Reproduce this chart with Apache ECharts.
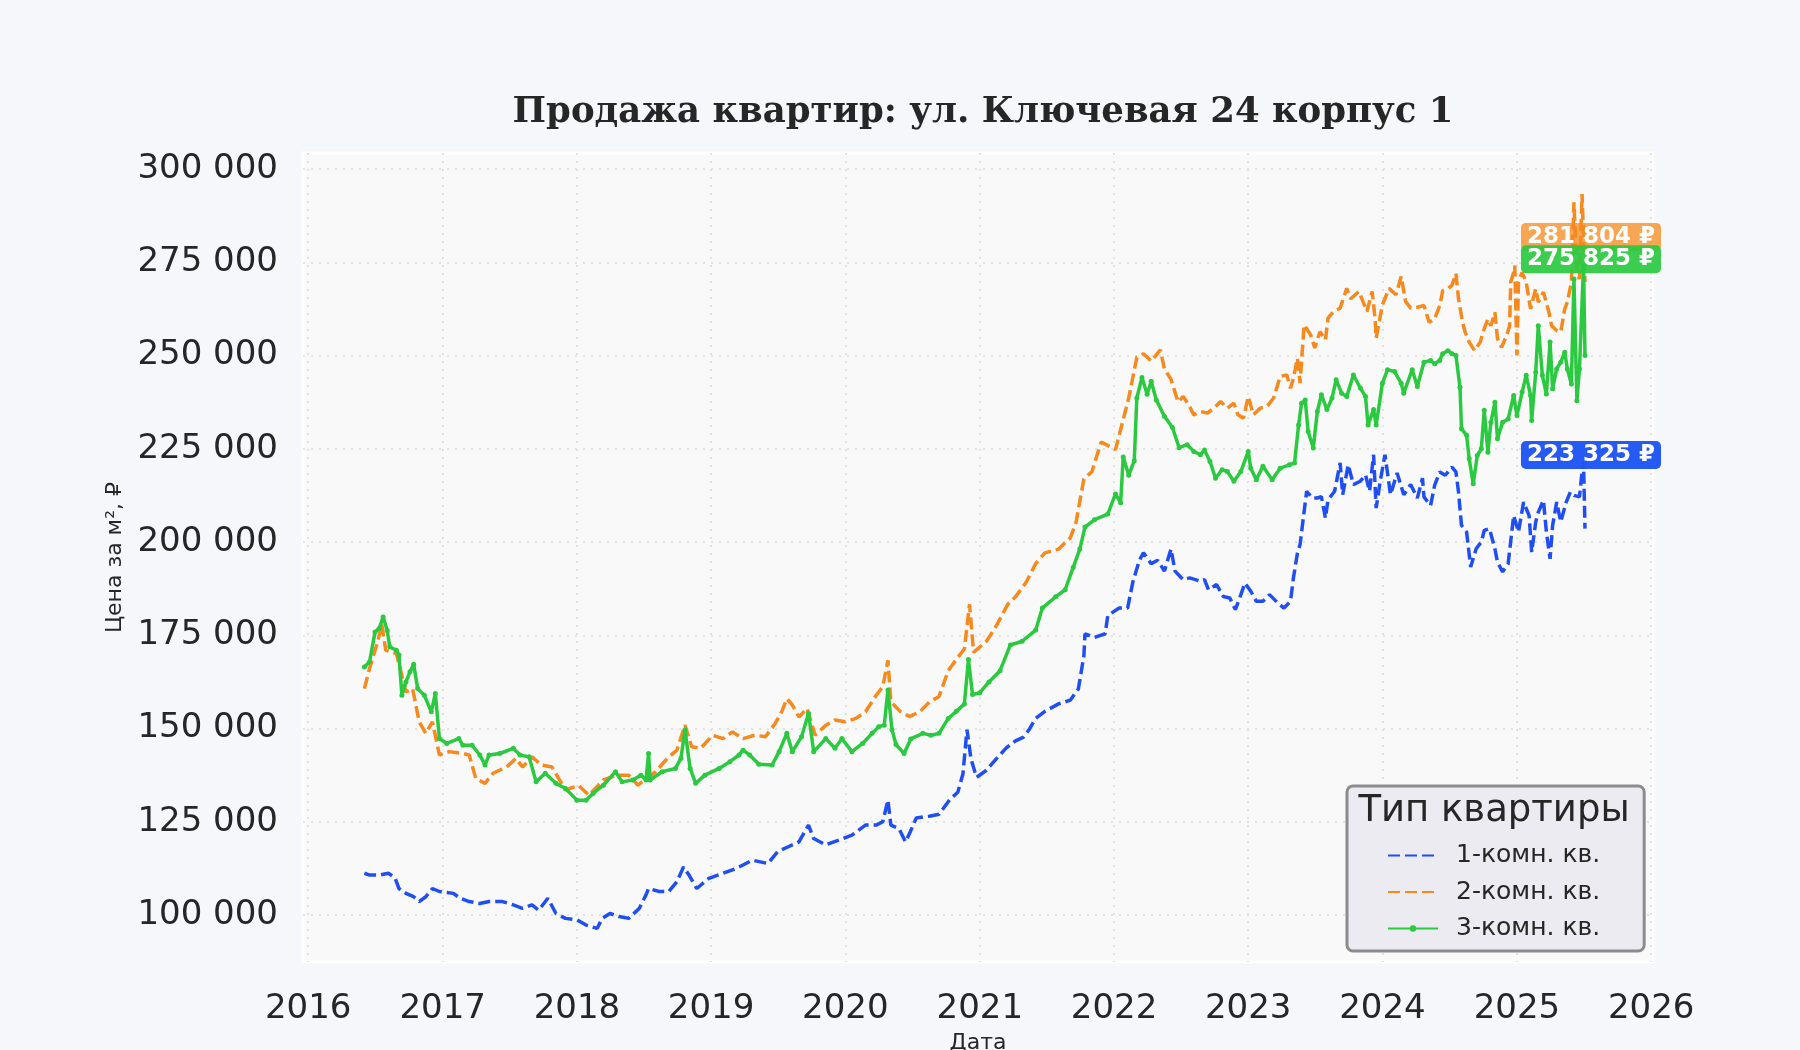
<!DOCTYPE html>
<html>
<head>
<meta charset="utf-8">
<script src="https://cdn.jsdelivr.net/npm/echarts@6/dist/echarts.min.js"></script>
<style>
  html, body { margin: 0; padding: 0; background: #f5f7fa; }
  #chart { width: 1800px; height: 1050px; }
</style>
</head>
<body>
<div id="chart"></div>
<script>
// Продажа квартир: ул. Ключевая 24 корпус 1

var yTicks = [100000, 125000, 150000, 175000, 200000, 225000, 250000, 275000, 300000];
var xTicks = ['2016-01-01', '2017-01-01', '2018-01-01', '2019-01-01', '2020-01-01',
              '2021-01-01', '2022-01-01', '2023-01-01', '2024-01-01', '2025-01-01', '2026-01-01'];
var seriesNames = ['1-комн. кв.', '2-комн. кв.', '3-комн. кв.'];
var lastDate = '2025-07-05';
var lastLabels = [223325, 281804, 275825];

var room1 = [
  ['2016-06-02', 111200], ['2016-06-16', 110700], ['2016-07-12', 110700], ['2016-08-06', 111200],
  ['2016-08-24', 110000], ['2016-09-04', 107100], ['2016-09-23', 105800], ['2016-10-14', 104900],
  ['2016-10-29', 103600], ['2016-11-16', 104900], ['2016-12-04', 107100], ['2016-12-23', 106300],
  ['2017-01-30', 105800], ['2017-02-17', 104500], ['2017-03-14', 103600], ['2017-04-12', 103100],
  ['2017-05-07', 103600], ['2017-06-13', 103600], ['2017-07-12', 102700], ['2017-08-06', 101800],
  ['2017-09-01', 102700], ['2017-09-19', 101300], ['2017-10-14', 104500], ['2017-11-05', 100400],
  ['2017-12-01', 99100], ['2018-01-01', 98700], ['2018-01-26', 97300], ['2018-02-25', 96400],
  ['2018-03-11', 99100], ['2018-04-01', 100400], ['2018-04-26', 99600], ['2018-05-22', 99100],
  ['2018-06-20', 101800], ['2018-07-08', 105400], ['2018-07-15', 107100], ['2018-08-13', 106300],
  ['2018-09-08', 106300], ['2018-09-30', 108900], ['2018-10-18', 112900], ['2018-11-02', 110700],
  ['2018-11-23', 107100], ['2018-12-26', 109800], ['2019-02-03', 111200], ['2019-03-11', 112500],
  ['2019-04-23', 114700], ['2019-06-05', 113800], ['2019-07-01', 117000], ['2019-07-30', 118300],
  ['2019-08-28', 119600], ['2019-09-23', 124100], ['2019-10-07', 120500], ['2019-11-09', 118800],
  ['2019-12-15', 120100], ['2020-01-19', 121400], ['2020-02-25', 124100], ['2020-03-25', 124100],
  ['2020-04-12', 125000], ['2020-04-26', 130800], ['2020-05-04', 124100], ['2020-05-26', 123200],
  ['2020-06-13', 119600], ['2020-06-24', 121900], ['2020-07-12', 126000], ['2020-08-17', 126500],
  ['2020-09-12', 127000], ['2020-10-11', 130900], ['2020-11-02', 132900], ['2020-11-16', 137800],
  ['2020-11-27', 149700], ['2020-12-08', 141800], ['2020-12-23', 136900], ['2021-01-19', 138800],
  ['2021-02-14', 141800], ['2021-03-14', 144800], ['2021-04-08', 146700], ['2021-04-30', 147700],
  ['2021-05-15', 149700], ['2021-06-02', 152700], ['2021-06-27', 154600], ['2021-08-03', 156600],
  ['2021-09-04', 157600], ['2021-09-26', 160600], ['2021-10-11', 169500], ['2021-10-14', 175400],
  ['2021-11-09', 174400], ['2021-12-08', 175400], ['2021-12-15', 180300], ['2022-01-15', 182300],
  ['2022-02-07', 182300], ['2022-02-21', 189200], ['2022-03-11', 195100], ['2022-03-22', 197100],
  ['2022-04-12', 194200], ['2022-04-30', 195100], ['2022-05-18', 192200], ['2022-06-05', 198100],
  ['2022-06-16', 192200], ['2022-07-08', 189900], ['2022-07-26', 190400], ['2022-08-24', 189500],
  ['2022-09-04', 189900], ['2022-09-15', 187200], ['2022-10-07', 188600], ['2022-10-25', 185400],
  ['2022-11-12', 185000], ['2022-11-27', 181900], ['2022-12-12', 185900], ['2022-12-23', 189000],
  ['2023-01-08', 186800], ['2023-01-23', 184100], ['2023-02-10', 184100], ['2023-02-28', 185900],
  ['2023-03-22', 183700], ['2023-04-08', 182300], ['2023-04-26', 184100], ['2023-05-04', 190400],
  ['2023-05-15', 197100], ['2023-05-22', 199300], ['2023-06-02', 208200], ['2023-06-09', 213600],
  ['2023-06-24', 211800], ['2023-07-08', 211800], ['2023-07-19', 212200], ['2023-07-30', 206400],
  ['2023-08-06', 211300], ['2023-08-24', 213600], ['2023-09-08', 221200], ['2023-09-15', 212700],
  ['2023-09-30', 220700], ['2023-10-14', 215400], ['2023-11-02', 216300], ['2023-11-16', 218000],
  ['2023-11-27', 213600], ['2023-12-08', 223400], ['2023-12-15', 209100], ['2023-12-26', 216300],
  ['2024-01-08', 223400], ['2024-01-23', 212700], ['2024-02-10', 218500], ['2024-02-28', 212700],
  ['2024-03-18', 215400], ['2024-04-05', 211800], ['2024-04-19', 217100], ['2024-04-23', 212100],
  ['2024-05-11', 209800], ['2024-05-22', 215200], ['2024-06-05', 218800], ['2024-06-20', 217900],
  ['2024-07-08', 220100], ['2024-07-19', 218800], ['2024-07-26', 213400], ['2024-08-03', 204500],
  ['2024-08-17', 202700], ['2024-08-28', 193300], ['2024-09-12', 198200], ['2024-09-26', 200000],
  ['2024-10-04', 203100], ['2024-10-18', 203600], ['2024-11-02', 198200], ['2024-11-09', 194600],
  ['2024-11-23', 192000], ['2024-12-08', 194200], ['2024-12-23', 207100], ['2025-01-05', 202700],
  ['2025-01-19', 210700], ['2025-02-03', 207100], ['2025-02-10', 197300], ['2025-02-21', 205400],
  ['2025-02-28', 208000], ['2025-03-14', 211200], ['2025-03-22', 202700], ['2025-04-01', 195500],
  ['2025-04-08', 204500], ['2025-04-19', 210700], ['2025-04-30', 205400], ['2025-05-15', 210700],
  ['2025-05-26', 213400], ['2025-06-05', 212500], ['2025-06-20', 212100], ['2025-06-27', 218800],
  ['2025-07-01', 221500], ['2025-07-05', 203600]
];

var room2 = [
  ['2016-06-02', 160700], ['2016-06-16', 166100], ['2016-07-08', 173200], ['2016-07-19', 178100],
  ['2016-07-30', 171000], ['2016-08-28', 170100], ['2016-09-23', 159800], ['2016-10-11', 160700],
  ['2016-10-29', 151800], ['2016-11-16', 148700], ['2016-12-04', 151800], ['2016-12-23', 142900],
  ['2017-01-19', 143800], ['2017-02-25', 143300], ['2017-03-14', 142900], ['2017-04-01', 136600],
  ['2017-04-26', 135300], ['2017-05-18', 138000], ['2017-06-24', 139700], ['2017-07-19', 142000],
  ['2017-08-06', 139700], ['2017-09-01', 142400], ['2017-09-26', 140200], ['2017-10-25', 139700],
  ['2017-12-01', 133500], ['2018-01-05', 134800], ['2018-02-03', 132100], ['2018-03-14', 136200],
  ['2018-04-19', 137500], ['2018-05-22', 137500], ['2018-06-16', 134800], ['2018-07-08', 136600],
  ['2018-08-03', 138400], ['2018-09-04', 142000], ['2018-09-30', 144200], ['2018-10-22', 150900],
  ['2018-11-09', 145100], ['2018-12-04', 144700], ['2019-01-05', 148200], ['2019-02-03', 147300],
  ['2019-02-28', 149100], ['2019-03-29', 147300], ['2019-04-30', 148200], ['2019-05-29', 147800],
  ['2019-06-24', 151300], ['2019-07-12', 154500], ['2019-07-26', 158000], ['2019-08-10', 156300],
  ['2019-08-28', 153100], ['2019-09-19', 155400], ['2019-10-11', 148200], ['2019-11-09', 150900],
  ['2019-12-04', 152300], ['2020-01-01', 151800], ['2020-01-30', 152700], ['2020-02-25', 154500],
  ['2020-03-25', 158900], ['2020-04-12', 161200], ['2020-04-26', 168300], ['2020-05-04', 157200],
  ['2020-05-29', 154600], ['2020-06-24', 153200], ['2020-07-23', 154600], ['2020-08-17', 157100],
  ['2020-09-12', 158600], ['2020-10-07', 165500], ['2020-10-29', 168500], ['2020-11-20', 171400],
  ['2020-12-04', 183300], ['2020-12-15', 170400], ['2021-01-19', 173400], ['2021-02-14', 177400],
  ['2021-03-18', 183300], ['2021-04-08', 185300], ['2021-05-07', 189200], ['2021-06-02', 194200],
  ['2021-06-27', 197100], ['2021-08-03', 198100], ['2021-09-04', 201100], ['2021-09-19', 205000],
  ['2021-10-11', 216900], ['2021-11-02', 218900], ['2021-11-27', 226800], ['2022-01-05', 224800],
  ['2022-01-23', 231700], ['2022-02-10', 238600], ['2022-03-04', 249500], ['2022-03-22', 250500],
  ['2022-04-12', 248500], ['2022-05-07', 251500], ['2022-05-18', 246500], ['2022-06-05', 243600],
  ['2022-06-24', 237600], ['2022-07-08', 239000], ['2022-07-23', 236800], ['2022-08-06', 234100],
  ['2022-08-24', 235000], ['2022-09-12', 234600], ['2022-09-30', 235900], ['2022-10-18', 237700],
  ['2022-11-05', 235900], ['2022-11-23', 237200], ['2022-12-04', 234100], ['2022-12-19', 233200],
  ['2023-01-01', 239000], ['2023-01-15', 234100], ['2023-02-03', 235900], ['2023-02-21', 236300],
  ['2023-03-11', 238600], ['2023-03-22', 242100], ['2023-03-29', 244400], ['2023-04-16', 244800],
  ['2023-04-26', 241200], ['2023-05-04', 243900], ['2023-05-15', 249300], ['2023-05-22', 242600],
  ['2023-06-02', 258200], ['2023-06-20', 255500], ['2023-07-01', 252000], ['2023-07-15', 256400],
  ['2023-07-30', 254200], ['2023-08-06', 260000], ['2023-08-21', 261800], ['2023-09-08', 262700],
  ['2023-09-26', 268000], ['2023-10-07', 265200], ['2023-10-29', 267200], ['2023-11-20', 261800],
  ['2023-12-04', 267200], ['2023-12-12', 260000], ['2023-12-15', 254700], ['2024-01-01', 263600],
  ['2024-01-19', 268000], ['2024-02-07', 266300], ['2024-02-21', 271200], ['2024-03-04', 264500],
  ['2024-03-18', 262700], ['2024-04-08', 263000], ['2024-04-23', 263400], ['2024-05-07', 258900],
  ['2024-05-22', 259800], ['2024-06-05', 263400], ['2024-06-13', 267400], ['2024-06-27', 267900],
  ['2024-07-08', 268800], ['2024-07-19', 272000], ['2024-07-26', 265200], ['2024-08-06', 258900],
  ['2024-08-13', 256300], ['2024-08-24', 253600], ['2024-09-08', 251300], ['2024-09-23', 253600],
  ['2024-10-04', 257200], ['2024-10-14', 259800], ['2024-10-22', 258000], ['2024-11-02', 261600],
  ['2024-11-09', 254500], ['2024-11-20', 252200], ['2024-12-04', 255400], ['2024-12-12', 258000],
  ['2024-12-15', 269700], ['2024-12-23', 272300], ['2024-12-26', 274100], ['2025-01-01', 250000],
  ['2025-01-05', 269700], ['2025-01-15', 272300], ['2025-01-26', 269700], ['2025-02-07', 262500],
  ['2025-02-21', 267900], ['2025-02-28', 264300], ['2025-03-14', 267000], ['2025-03-29', 261600],
  ['2025-04-05', 258000], ['2025-04-19', 256700], ['2025-04-30', 256300], ['2025-05-11', 262500],
  ['2025-05-18', 264300], ['2025-05-29', 269700], ['2025-06-05', 291100], ['2025-06-13', 272300],
  ['2025-06-20', 270500], ['2025-06-27', 293300], ['2025-07-01', 281300], ['2025-07-05', 269700]
];

var room3 = [
  ['2016-06-02', 166500], ['2016-06-16', 167900], ['2016-07-01', 175900], ['2016-07-12', 176800],
  ['2016-07-23', 179900], ['2016-08-03', 176300], ['2016-08-10', 171900], ['2016-08-28', 171000],
  ['2016-09-04', 169700], ['2016-09-12', 158900], ['2016-09-23', 162500], ['2016-10-04', 165200],
  ['2016-10-14', 167200], ['2016-10-25', 160700], ['2016-11-12', 158900], ['2016-12-01', 154500],
  ['2016-12-12', 159400], ['2016-12-23', 147300], ['2017-01-12', 146000], ['2017-02-14', 147300],
  ['2017-02-25', 145500], ['2017-03-22', 145500], ['2017-04-12', 142900], ['2017-04-26', 140200],
  ['2017-05-07', 142900], ['2017-06-05', 143300], ['2017-07-12', 144700], ['2017-07-30', 142900],
  ['2017-08-24', 142400], ['2017-09-12', 135700], ['2017-10-07', 138000], ['2017-11-05', 135300],
  ['2017-12-01', 133900], ['2018-01-01', 130800], ['2018-01-26', 130800], ['2018-02-14', 132600],
  ['2018-03-14', 134800], ['2018-04-16', 138400], ['2018-05-04', 135700], ['2018-06-02', 136200],
  ['2018-06-24', 137500], ['2018-07-08', 136200], ['2018-07-15', 143300], ['2018-07-19', 136200],
  ['2018-08-21', 138400], ['2018-09-26', 139300], ['2018-10-11', 142000], ['2018-10-22', 149600],
  ['2018-11-05', 139300], ['2018-11-20', 135300], ['2018-12-15', 137500], ['2019-01-23', 139300],
  ['2019-02-21', 141100], ['2019-03-18', 142900], ['2019-03-29', 144200], ['2019-04-16', 142900],
  ['2019-05-11', 140400], ['2019-06-16', 140200], ['2019-07-05', 143800], ['2019-07-26', 148700],
  ['2019-08-10', 143800], ['2019-09-04', 147800], ['2019-09-23', 154000], ['2019-10-07', 143800],
  ['2019-11-09', 147300], ['2019-12-04', 144700], ['2019-12-23', 147300], ['2020-01-19', 143800],
  ['2020-02-17', 146000], ['2020-03-14', 148700], ['2020-04-01', 150500], ['2020-04-16', 150900],
  ['2020-04-26', 160300], ['2020-05-07', 149700], ['2020-05-18', 145700], ['2020-06-09', 143300],
  ['2020-06-27', 147200], ['2020-07-30', 148700], ['2020-08-21', 148200], ['2020-09-12', 148700],
  ['2020-10-07', 152700], ['2020-10-29', 154600], ['2020-11-20', 156600], ['2020-12-01', 168500],
  ['2020-12-12', 159100], ['2021-01-01', 159600], ['2021-01-26', 162500], ['2021-02-25', 165500],
  ['2021-03-25', 172400], ['2021-04-26', 173400], ['2021-06-02', 176400], ['2021-06-20', 182300],
  ['2021-07-26', 185300], ['2021-08-21', 187200], ['2021-09-12', 193200], ['2021-09-30', 198100],
  ['2021-10-14', 204000], ['2021-11-09', 206000], ['2021-12-15', 207500], ['2022-01-05', 212900],
  ['2022-01-19', 210500], ['2022-01-26', 222800], ['2022-02-10', 217900], ['2022-02-25', 221800],
  ['2022-03-04', 238600], ['2022-03-18', 244100], ['2022-04-01', 239600], ['2022-04-12', 243100],
  ['2022-04-26', 238100], ['2022-05-18', 233700], ['2022-06-09', 230700], ['2022-06-27', 225300],
  ['2022-07-19', 226100], ['2022-08-06', 224300], ['2022-08-24', 223400], ['2022-09-04', 224700],
  ['2022-09-19', 221600], ['2022-10-04', 217100], ['2022-10-22', 219400], ['2022-11-05', 218900],
  ['2022-11-23', 216300], ['2022-12-12', 218900], ['2023-01-01', 224300], ['2023-01-08', 219800],
  ['2023-01-23', 216700], ['2023-02-10', 220300], ['2023-03-07', 216700], ['2023-03-29', 219800],
  ['2023-04-23', 220700], ['2023-05-07', 221200], ['2023-05-18', 231400], ['2023-05-26', 237200],
  ['2023-06-05', 238100], ['2023-06-13', 229600], ['2023-06-27', 225200], ['2023-07-08', 235000],
  ['2023-07-19', 239500], ['2023-08-03', 235500], ['2023-08-17', 238600], ['2023-08-28', 243500],
  ['2023-09-12', 239900], ['2023-09-26', 239000], ['2023-10-14', 244800], ['2023-11-02', 241300],
  ['2023-11-16', 239000], ['2023-11-23', 231400], ['2023-12-08', 235500], ['2023-12-15', 231400],
  ['2024-01-01', 242600], ['2024-01-15', 246200], ['2024-02-03', 245700], ['2024-02-21', 242600],
  ['2024-02-28', 239900], ['2024-03-22', 246200], ['2024-04-05', 241700], ['2024-04-23', 248200],
  ['2024-05-11', 248700], ['2024-05-22', 247800], ['2024-06-05', 248700], ['2024-06-13', 250500],
  ['2024-06-27', 251300], ['2024-07-08', 250500], ['2024-07-19', 250000], ['2024-07-30', 241500],
  ['2024-08-03', 230400], ['2024-08-17', 228600], ['2024-08-24', 222300], ['2024-09-04', 215600],
  ['2024-09-15', 223200], ['2024-09-26', 225000], ['2024-10-04', 235300], ['2024-10-14', 224100],
  ['2024-10-22', 232100], ['2024-11-02', 237500], ['2024-11-09', 227700], ['2024-11-23', 232100],
  ['2024-12-08', 233000], ['2024-12-23', 239300], ['2025-01-01', 233900], ['2025-01-15', 240200],
  ['2025-01-26', 244700], ['2025-02-07', 239300], ['2025-02-10', 232600], ['2025-02-21', 245500],
  ['2025-02-28', 258000], ['2025-03-11', 244700], ['2025-03-22', 239700], ['2025-04-01', 253600],
  ['2025-04-08', 241100], ['2025-04-19', 246400], ['2025-04-30', 248200], ['2025-05-11', 250900],
  ['2025-05-18', 246400], ['2025-05-29', 242400], ['2025-06-05', 270500], ['2025-06-13', 237900],
  ['2025-06-20', 246400], ['2025-07-01', 274100], ['2025-07-05', 250000]
];

var lineColors = ['#1f4ff2', '#f8891c', '#2ac940'];
var badgeColors = ['rgba(31,85,245,0.97)', 'rgba(246,137,30,0.75)', 'rgba(42,201,64,0.92)'];

function ts(d) { return Date.parse(d); }

function toPoints(rows) {
  return rows.map(function (r) { return [ts(r[0]), r[1]]; });
}

function spaced(n) {
  return String(Math.round(n)).replace(/\B(?=(\d{3})+(?!\d))/g, ' ');
}

function badge(i) {
  return {
    symbol: 'circle',
    symbolSize: 0,
    data: [{ coord: [ts(lastDate), lastLabels[i]], value: lastLabels[i] }],
    label: {
      show: true,
      position: 'inside',
      offset: [6, 0],
      formatter: function (p) { return spaced(p.value) + ' ₽'; },
      color: '#ffffff',
      fontWeight: 'bold',
      fontSize: 23,
      fontFamily: 'DejaVu Sans',
      backgroundColor: badgeColors[i],
      borderRadius: 5,
      padding: [3, 6, 2, 6]
    }
  };
}

var chart = echarts.init(document.getElementById('chart'));

var option = {
  animation: false,
  backgroundColor: '#f5f7fa',
  textStyle: { fontFamily: 'DejaVu Sans' },
  title: {
    text: 'Продажа квартир: ул. Ключевая 24 корпус 1',
    left: 978,
    textAlign: 'center',
    top: 90,
    textStyle: {
      fontFamily: 'DejaVu Serif',
      fontWeight: 'bold',
      fontSize: 35.5,
      color: '#262626'
    }
  },
  grid: {
    left: 303,
    right: 147,
    top: 153,
    bottom: 88,
    outerBoundsMode: 'none',
    containLabel: false,
    show: true,
    backgroundColor: '#f9f9f9',
    borderColor: '#ffffff',
    borderWidth: 3
  },
  legend: {
    data: [
      { name: seriesNames[0], itemStyle: { opacity: 0 } },
      { name: seriesNames[1], itemStyle: { opacity: 0 } },
      { name: seriesNames[2] }
    ],
    orient: 'vertical',
    left: 1347,
    top: 786,
    padding: [57, 44, 10, 40],
    itemGap: 11.5,
    itemWidth: 50,
    itemHeight: 8,
    backgroundColor: '#ebebf1',
    borderColor: '#8c8c8c',
    borderWidth: 3,
    borderRadius: 6,
    textStyle: { fontSize: 25, color: '#262626', fontFamily: 'DejaVu Sans', padding: [0, 0, 0, 13] }
  },
  graphic: [{
    type: 'text',
    x: 1494,
    y: 811,
    z: 100,
    style: {
      text: 'Тип квартиры',
      fontSize: 37,
      fontFamily: 'DejaVu Sans',
      fill: '#262626',
      textAlign: 'center',
      textVerticalAlign: 'middle'
    }
  }],
  xAxis: {
    type: 'value',
    min: ts('2015-12-18'),
    max: ts('2026-01-06'),
    name: 'Дата',
    nameLocation: 'middle',
    nameGap: 70,
    nameTextStyle: { fontSize: 22, color: '#262626' },
    axisLine: { show: false },
    axisTick: { show: false, customValues: xTicks.map(ts) },
    axisLabel: {
      customValues: xTicks.map(ts),
      fontSize: 34,
      color: '#262626',
      margin: 30,
      formatter: function (v) { return String(new Date(v).getUTCFullYear()); }
    },
    splitLine: { show: true, lineStyle: { color: '#e2e2e2', width: 2, type: [2, 6] } }
  },
  yAxis: {
    type: 'value',
    min: 87400,
    max: 304300,
    name: 'Цена за м², ₽',
    nameLocation: 'middle',
    nameGap: 175,
    nameRotate: 90,
    nameTextStyle: { fontSize: 22, color: '#262626' },
    axisLine: { show: false },
    axisTick: { show: false, customValues: yTicks },
    axisLabel: {
      customValues: yTicks,
      fontSize: 34,
      color: '#262626',
      margin: 25,
      formatter: function (v) { return spaced(v); }
    },
    splitLine: { show: true, lineStyle: { color: '#e2e2e2', width: 2, type: [2, 6] } }
  },
  series: [
    {
      name: seriesNames[0],
      type: 'line',
      data: toPoints(room1),
      symbol: 'none',
      color: lineColors[0],
      lineStyle: { width: 3.5, type: [12, 5] },
      markPoint: badge(0)
    },
    {
      name: seriesNames[1],
      type: 'line',
      data: toPoints(room2),
      symbol: 'none',
      color: lineColors[1],
      lineStyle: { width: 3.5, type: [12, 5] },
      markPoint: badge(1)
    },
    {
      name: seriesNames[2],
      type: 'line',
      data: toPoints(room3),
      symbol: 'circle',
      symbolSize: 5,
      showSymbol: true,
      color: lineColors[2],
      itemStyle: { color: lineColors[2] },
      lineStyle: { width: 3.5 },
      markPoint: badge(2)
    }
  ]
};

chart.setOption(option);
</script>
</body>
</html>
